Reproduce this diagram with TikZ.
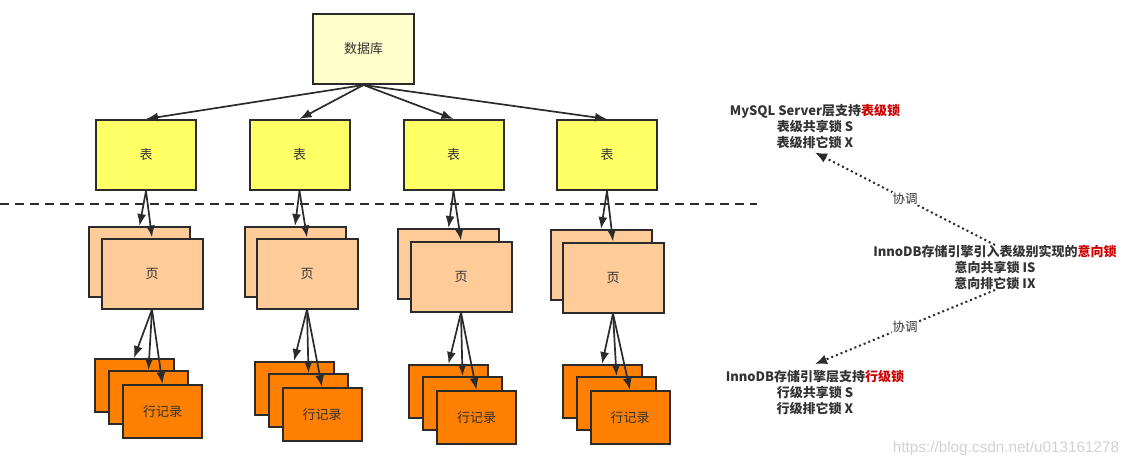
\documentclass[tikz,border=0pt]{standalone}
\usepackage{fontspec}
\setmainfont{Noto Sans CJK SC}
\newfontfamily\wmfont{Liberation Sans}
\usetikzlibrary{arrows.meta,calc}
\definecolor{ln}{HTML}{2B2B2B}
\definecolor{txt}{HTML}{333333}
\definecolor{dbfill}{HTML}{FFFFCC}
\definecolor{tbfill}{HTML}{FFFF66}
\definecolor{pgfill}{HTML}{FFCC99}
\definecolor{rcfill}{HTML}{FF8000}
\definecolor{redtxt}{HTML}{CC0000}
\tikzset{
  box/.style={draw=ln, line width=2pt, text=txt, font=\fontsize{13}{15}\selectfont, inner sep=0pt},
  dbbox/.style={box, fill=dbfill, minimum width=101pt, minimum height=70pt},
  tbbox/.style={box, fill=tbfill, minimum width=100pt, minimum height=70pt},
  pgbox/.style={box, fill=pgfill, minimum width=101pt, minimum height=70pt},
  rcbox/.style={box, fill=rcfill, minimum width=79pt, minimum height=53pt},
  conn/.style={draw=ln, line width=1.7pt, -{Latex[length=12pt,width=9pt]}},
  dotconn/.style={draw=ln, line width=2pt, dash pattern=on 2pt off 3pt, -{Latex[length=12pt,width=10pt]}},
  info/.style={align=center, text=txt, font=\fontsize{13}{16}\selectfont\bfseries, inner sep=0pt},
  lbl/.style={fill=white, text=txt, font=\fontsize{12.5}{14}\selectfont, inner sep=1pt}
}
\begin{document}
\begin{tikzpicture}[x=1pt,y=-1pt]
\useasboundingbox (0,0) rectangle (1133,467);
% database
\node[dbbox] (db) at (363.5,49) {数据库};
% tables
\node[tbbox] (t1) at (146,155) {表};
\node[tbbox] (t2) at (299.5,155) {表};
\node[tbbox] (t3) at (453.5,155) {表};
\node[tbbox] (t4) at (607,155) {表};
% separator
\coordinate (sepA) at (0,204);
\coordinate (sepB) at (757,204);
\draw[ln, line width=1.7pt, dash pattern=on 9pt off 6pt] (sepA) -- (sepB);
% pages
\node[pgbox] (p1b) at (139.5,262) {};
\node[pgbox] (p1f) at (152,273.5) {页};
\node[pgbox] (p2b) at (295,262) {};
\node[pgbox] (p2f) at (307,273.5) {页};
\node[pgbox] (p3b) at (448.5,264) {};
\node[pgbox] (p3f) at (461,276.5) {页};
\node[pgbox] (p4b) at (601,265) {};
\node[pgbox] (p4f) at (613,277.5) {页};
% records
\node[rcbox] (r1a) at (134,385.5) {};
\node[rcbox] (r1b) at (148.5,397.5) {};
\node[rcbox] (r1c) at (162.5,411.5) {行记录};
\node[rcbox] (r2a) at (294,388.5) {};
\node[rcbox] (r2b) at (308.5,400.5) {};
\node[rcbox] (r2c) at (322,414.5) {行记录};
\node[rcbox] (r3a) at (448.5,391.5) {};
\node[rcbox] (r3b) at (462.5,403.5) {};
\node[rcbox] (r3c) at (476.5,417.5) {行记录};
\node[rcbox] (r4a) at (602,391.5) {};
\node[rcbox] (r4b) at (616.5,403.5) {};
\node[rcbox] (r4c) at (630,417.5) {行记录};
% arrows db -> tables
\foreach \t in {t1,t2,t3,t4} \draw[conn] (db.south) -- (\t.north);
% arrows tables -> pages
\foreach \i in {1,2,3,4} {
  \draw[conn] (t\i.south) -- (p\i b.north);
  \draw[conn] (t\i.south) -- (p\i f.north);
}
% arrows pages -> records
\foreach \i in {1,2,3,4} {
  \draw[conn] (p\i f.south) -- (r\i a.north);
  \draw[conn] (p\i f.south) -- (r\i b.north);
  \draw[conn] (p\i f.south) -- (r\i c.north);
}
% right side texts
\node[info] (sl) at (815,127) {MySQL Server层支持\textcolor{redtxt}{表级锁}\\表级共享锁 S\\表级排它锁 X};
\node[info] (il) at (995,267.5) {InnoDB存储引擎引入表级别实现的\textcolor{redtxt}{意向锁}\\意向共享锁 IS\\意向排它锁 IX};
\node[info] (rl) at (815,392.5) {InnoDB存储引擎层支持\textcolor{redtxt}{行级锁}\\行级共享锁 S\\行级排它锁 X};
\draw[dotconn] (il.north) -- node[lbl] {协调} ($(sl.south)+(0,3)$);
\draw[dotconn] (il.south) -- node[lbl] {协调} ($(rl.north)+(0,-6)$);
% watermark
\node[text=black!18, font=\wmfont\fontsize{15.3}{17}\selectfont, inner sep=0pt] (wm) at (1006,449) {https://blog.csdn.net/u013161278};
\end{tikzpicture}
\end{document}
